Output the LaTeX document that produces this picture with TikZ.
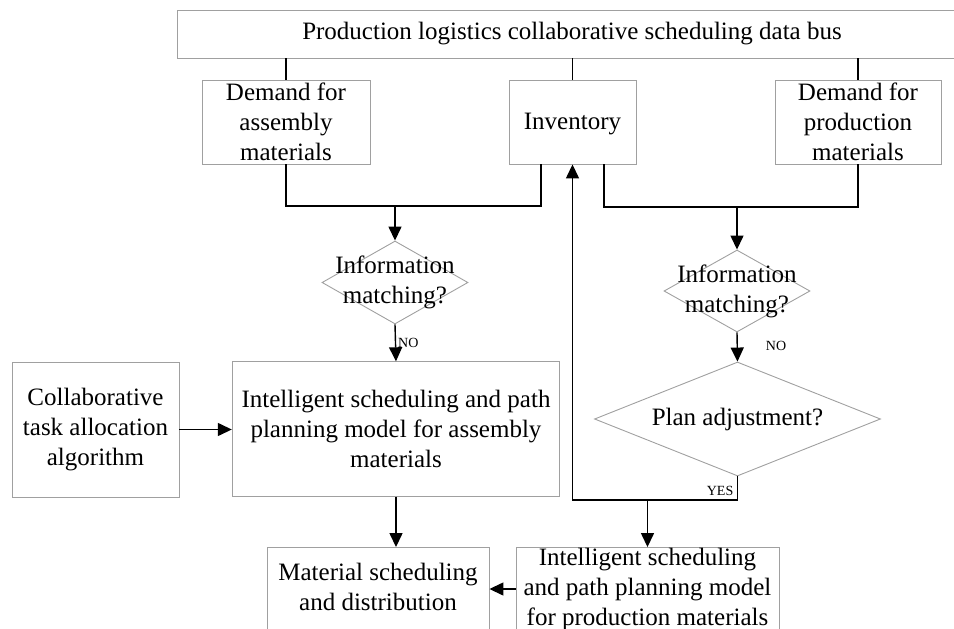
\documentclass[tikz,border=0pt]{standalone}
\usepackage{fontspec}
\setmainfont{Liberation Serif}
\usetikzlibrary{shapes.geometric,arrows.meta,calc}
\definecolor{boxgray}{RGB}{160,160,160}
\begin{document}
\begin{tikzpicture}[x=1pt,y=-1pt,
  box/.style={draw=boxgray, line width=0.9pt, rectangle, inner sep=0pt},
  dia/.style={draw=boxgray, line width=0.9pt, diamond, inner sep=0pt},
  txt/.style={align=center, font=\fontsize{25}{30}\selectfont, inner sep=0pt},
  conn/.style={draw=black, line width=1.4pt},
  arr/.style={conn, -{Triangle[length=14pt,width=13pt]}},
  lab/.style={font=\fontsize{14}{14}\selectfont, inner sep=0pt}
]
\useasboundingbox (0,0) rectangle (954,629);

\node[box,txt,minimum width=790,minimum height=48] (bus) at (572,34) {Production logistics collaborative scheduling data bus};
\node[box,txt,minimum width=168,minimum height=84] (dA) at (286,122) {Demand for\\assembly\\materials};
\node[box,minimum width=127,minimum height=84] (inv) at (572.5,122) {};
\node[txt] (invt) at (572.5,124.5) {Inventory};
\node[box,txt,minimum width=166,minimum height=84] (dP) at (858,122) {Demand for\\production\\materials};

\node[dia,minimum width=146,minimum height=83] (d1) at (395,282.5) {};
\node[txt] (d1t) at (d1) {Information\\matching?};
\node[dia,minimum width=146,minimum height=82] (d2) at (737,291) {};
\node[txt] (d2t) at (d2) {Information\\matching?};
\node[dia,minimum width=286,minimum height=114] (d3) at (737.5,419) {};
\node[txt] (d3t) at (d3) {Plan adjustment?};

\node[box,txt,minimum width=167,minimum height=135] (col) at (95.5,429.5) {Collaborative\\task allocation\\algorithm};
\node[box,txt,minimum width=327.5,minimum height=134.5] (asm) at (396,429) {Intelligent scheduling and path\\planning model for assembly\\materials};

\node[box,minimum width=222,minimum height=93] (mat) at (378,594) {};
\node[txt] (matt) at (378,587) {Material scheduling\\and distribution};
\node[box,minimum width=263,minimum height=93] (prod) at (647.5,594) {};
\node[txt] (prodt) at (647.5,589) {Intelligent scheduling\\and path planning model\\for production materials};

\coordinate (jA) at (395,206);
\coordinate (invL) at (541,164);
\coordinate (invR) at (604,164);
\coordinate (jP) at (737,207);
\coordinate (jY) at (737.5,500);

\draw[conn] (dA.north) -- (dA.north |- bus.south);
\draw[conn] (inv.north) -- (inv.north |- bus.south);
\draw[conn] (dP.north) -- (dP.north |- bus.south);

\draw[conn] (dA.south) |- (invL |- jA) -- (invL);
\draw[arr] (jA) -- (d1.north);
\draw[conn] (invR) |- (dP.south |- jP) -- (dP.south);
\draw[arr] (jP) -- (d2.north);

\draw[arr] (d1.south) -- (asm.north) node[lab,pos=0.5,anchor=west,xshift=2pt] {NO};
\draw[arr] (d2.south) -- (d3.north) node[lab,pos=0.45,anchor=west,xshift=28pt] {NO};

\draw[arr] (d3.south) |- (inv.south |- jY) -- (inv.south);
\node[lab,anchor=south east] (yes) at ($(d3.south)+(-4,19)$) {YES};
\draw[arr] (prod.north |- jY) -- (prod.north);

\draw[arr] (col.east) -- (col.east -| asm.west);
\draw[arr] (asm.south) -- (asm.south |- mat.north);
\draw[arr] (prod.west |- prodt) -- (mat.east |- prodt);
\end{tikzpicture}
\end{document}
